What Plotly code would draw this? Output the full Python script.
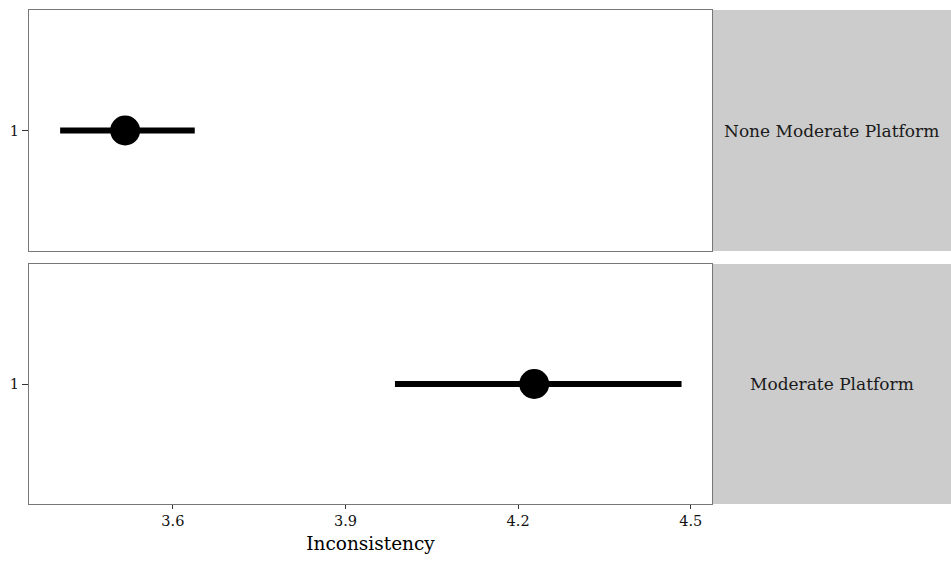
import plotly.graph_objects as go

groups = ["None Moderate Platform", "Moderate Platform"]
estimates = [3.517, 4.228]
lower = [3.404, 3.986]
upper = [3.638, 4.484]
x_ticks = [3.6, 3.9, 4.2, 4.5]
x_title = "Inconsistency"

FONT = "DejaVu Serif"
xr = [3.3499, 4.537]
xdom = [0, 683 / 922]
ydoms = [[0.5121, 1.0], [0.0, 0.4858]]

fig = go.Figure()
for i, g in enumerate(groups):
    xa = "x" if i == 0 else "x2"
    ya = "y" if i == 0 else "y2"
    fig.add_trace(go.Scatter(
        x=[estimates[i]], y=[1],
        mode="markers",
        marker=dict(size=30, color="black"),
        error_x=dict(type="data", symmetric=False,
                     array=[upper[i] - estimates[i]],
                     arrayminus=[estimates[i] - lower[i]],
                     thickness=6, width=0, color="black"),
        xaxis=xa, yaxis=ya, showlegend=False, hoverinfo="skip"))
    fig.add_shape(type="rect", xref="paper", yref="paper",
                  x0=xdom[1], x1=1.0, y0=ydoms[i][0], y1=ydoms[i][1],
                  fillcolor="#CCCCCC", line=dict(width=0), layer="below")
    fig.add_annotation(text=g, xref="paper", yref="paper",
                       x=(xdom[1] + 1.0) / 2, y=sum(ydoms[i]) / 2,
                       xanchor="center", yanchor="middle",
                       showarrow=False, font=dict(family=FONT, size=17, color="#1a1a1a"))

axis_common = dict(range=xr, showgrid=False, zeroline=False, showline=True,
                   mirror=True, linecolor="#777777", linewidth=1)
tickfont = dict(family=FONT, size=14.5, color="#111111")
fig.update_layout(
    width=951, height=563,
    margin=dict(l=29, r=0, t=10, b=59),
    plot_bgcolor="white", paper_bgcolor="white",
    xaxis=dict(domain=xdom, anchor="y", showticklabels=False, ticks="", **axis_common),
    xaxis2=dict(domain=xdom, anchor="y2", tickvals=x_ticks,
                ticktext=[f"{v:.1f}" for v in x_ticks],
                ticks="outside", ticklen=4, tickcolor="#333", tickwidth=1,
                tickfont=tickfont,
                title=dict(text=x_title, standoff=8,
                           font=dict(family=FONT, size=18.5, color="black")),
                **axis_common),
    yaxis=dict(domain=ydoms[0], anchor="x", range=[0.5, 1.5], tickvals=[1], ticktext=["1"],
               ticks="outside", ticklen=6, tickcolor="#333", showgrid=False, zeroline=False,
               showline=True, mirror=True, linecolor="#777777", tickfont=tickfont),
    yaxis2=dict(domain=ydoms[1], anchor="x2", range=[0.5, 1.5], tickvals=[1], ticktext=["1"],
                ticks="outside", ticklen=6, tickcolor="#333", showgrid=False, zeroline=False,
                showline=True, mirror=True, linecolor="#777777", tickfont=tickfont),
)
fig.write_html("out.html")
